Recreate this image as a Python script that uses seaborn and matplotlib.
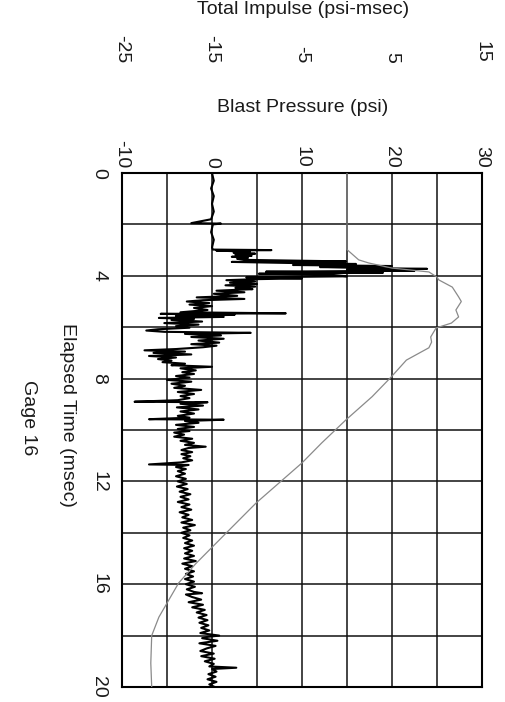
import numpy as np
import pandas as pd
import matplotlib
matplotlib.use("Agg")
import matplotlib.pyplot as plt
import seaborn as sns

# ---- data ----
time_ms = [0.0, 0.3, 0.6, 0.9, 1.2, 1.5, 1.8, 1.95, 1.97, 2.0, 2.3, 2.6, 2.9, 2.98,
           3.0, 3.02, 3.06, 3.1, 3.14, 3.18, 3.22, 3.26, 3.3, 3.34, 3.38, 3.44, 3.46,
           3.5, 3.54, 3.58, 3.62, 3.66, 3.7, 3.73, 3.76, 3.8, 3.84, 3.88, 3.92, 3.96,
           4.02, 4.06, 4.1, 4.13, 4.17, 4.22, 4.27, 4.32, 4.37, 4.42, 4.47, 4.52, 4.58,
           4.64, 4.7, 4.78, 4.84, 4.9, 4.95, 5.0, 5.06, 5.12, 5.18, 5.25, 5.33, 5.42,
           5.46, 5.48, 5.52, 5.56, 5.6, 5.64, 5.68, 5.72, 5.78, 5.84, 5.9, 5.96, 6.02,
           6.08, 6.13, 6.18, 6.22, 6.26, 6.32, 6.38, 6.45, 6.52, 6.6, 6.66, 6.72, 6.78,
           6.85, 6.9, 6.95, 7.0, 7.06, 7.12, 7.18, 7.24, 7.3, 7.36, 7.42, 7.48, 7.54,
           7.6, 7.68, 7.75, 7.82, 7.9, 7.96, 8.05, 8.12, 8.2, 8.28, 8.36, 8.44, 8.52,
           8.6, 8.68, 8.76, 8.84, 8.9, 8.92, 8.98, 9.05, 9.12, 9.2, 9.28, 9.36, 9.45,
           9.52, 9.58, 9.6, 9.65, 9.72, 9.8, 9.88, 9.96, 10.04, 10.1, 10.18, 10.26,
           10.34, 10.42, 10.5, 10.58, 10.65, 10.7, 10.78, 10.86, 10.94, 11.02, 11.1,
           11.18, 11.26, 11.34, 11.36, 11.44, 11.52, 11.6, 11.7, 11.8, 11.9, 12.0,
           12.1, 12.2, 12.3, 12.4, 12.5, 12.6, 12.7, 12.8, 12.9, 13.0, 13.1, 13.2,
           13.3, 13.4, 13.5, 13.6, 13.7, 13.8, 13.9, 14.0, 14.1, 14.2, 14.3, 14.4,
           14.5, 14.6, 14.7, 14.8, 14.9, 15.0, 15.1, 15.2, 15.3, 15.4, 15.5, 15.6,
           15.7, 15.8, 15.9, 16.0, 16.1, 16.2, 16.3, 16.35, 16.4, 16.5, 16.6, 16.7,
           16.8, 16.9, 17.0, 17.1, 17.2, 17.3, 17.4, 17.5, 17.6, 17.7, 17.8, 17.9,
           18.0, 18.05, 18.1, 18.2, 18.3, 18.4, 18.5, 18.6, 18.7, 18.8, 18.9, 19.0,
           19.1, 19.2, 19.25, 19.3, 19.4, 19.5, 19.6, 19.7, 19.8, 19.9, 20.0]
pressure_psi = [0.0, 0.2, -0.1, 0.2, 0.0, 0.2, -0.1, -2.3, 1.0, 0.1, -0.1, 0.2, 0.0, 0.1,
                6.6, 0.5, 4.2, 2.4, 4.8, 2.6, 4.4, 2.2, 4.0, 2.8, 3.6, 14.9, 2.2,
                8.5, 16.0, 9.0, 20.0, 12.0, 17.5, 23.9, 15.0, 22.5, 6.0, 19.0, 5.2, 13.0,
                15.0, 3.8, 10.0, 5.0, 1.6, 4.8, 2.0, 5.0, 1.5, 4.8, 2.6, 4.5, 0.5,
                3.6, 0.2, 2.8, -1.7, 3.6, -1.0, -2.8, -0.3, -2.5, 0.0, -2.0, -0.5, -3.5,
                8.2, -5.7, 2.5, -4.0, 1.3, -5.9, -2.0, -4.5, -1.1, -5.3, -1.5, -4.0, -2.5,
                -6.0, -7.3, -5.3, 4.3, -3.0, 1.0, -2.3, 1.3, -1.5, 0.8, -2.3, 0.5, -1.0,
                -4.0, -7.5, -3.0, -6.5, -2.3, -7.0, -4.0, -6.0, -4.5, -5.5, -3.0, -4.5, 0.0,
                -3.5, -1.8, -3.3, -2.0, -4.0, -2.5, -5.0, -2.3, -4.5, -3.0, -4.2, -1.2, -3.8,
                -2.0, -3.5, -2.5, -3.8, -8.6, -0.5, -3.5, -1.0, -3.9, -1.5, -3.5, -2.0, -3.8,
                -2.5, -7.0, 1.3, -3.0, -1.5, -4.0, -2.0, -3.8, -2.5, -4.2, -3.1, -4.2,
                -2.2, -3.5, -2.0, -3.0, -0.7, -2.6, -3.4, -2.2, -3.4, -2.4, -3.2,
                -2.2, -3.4, -7.0, -2.6, -4.0, -2.9, -3.8, -3.0, -4.0, -2.9, -3.8,
                -2.8, -3.9, -2.7, -3.6, -2.4, -3.5, -2.6, -3.8, -2.5, -3.4, -2.3, -3.6,
                -2.6, -3.3, -2.2, -3.4, -1.9, -3.2, -2.4, -3.4, -2.5, -3.2, -2.2, -3.0,
                -2.0, -3.1, -2.2, -3.0, -2.0, -3.1, -1.8, -3.3, -2.2, -3.0, -2.0, -2.9,
                -2.1, -3.0, -2.0, -2.9, -1.9, -2.8, -2.0, -1.1, -2.9, -2.2, -1.2, -2.6,
                -1.0, -2.2, -0.8, -1.7, -0.6, -1.5, -0.5, -1.4, -0.4, -1.2, -0.3, -1.3,
                0.8, -0.5, -1.1, 0.6, -1.4, 0.4, -0.6, -1.3, 0.2, -1.2, 0.3, -0.8,
                0.2, -0.3, 2.7, 0.0, 0.5, -0.4, 0.4, -0.5, 0.5, -0.3, 0.3]

impulse_time_ms = [0.0, 2.98, 3.38, 3.5, 3.7, 3.85, 4.05, 4.16, 4.44, 4.82, 5.0, 5.33,
                   5.6, 5.84, 6.03, 6.38, 6.58, 6.8, 7.28, 7.94, 8.7, 9.6, 10.5, 11.28,
                   12.84, 14.0, 15.2, 15.95, 17.28, 18.0, 19.07, 20.0]
impulse_psi_ms = [0.0, 0.0, 1.3, 2.4, 5.0, 9.1, 10.0, 10.2, 11.7, 12.4, 12.7, 12.1,
                  12.4, 11.6, 9.9, 9.3, 9.4, 9.1, 6.6, 4.9, 2.8, -0.1, -2.8, -5.0,
                  -10.1, -13.4, -16.8, -18.7, -20.9, -21.7, -21.8, -21.7]

pressure_ticks = [-10, 0, 10, 20, 30]
impulse_ticks = [-25, -15, -5, 5, 15]
time_ticks = [0, 4, 8, 12, 16, 20]

# ---- style ----
sns.set_style("white")
plt.rcParams["font.family"] = ["Liberation Sans", "DejaVu Sans"]
plt.rcParams["text.color"] = "#1a1a1a"
plt.rcParams["xtick.color"] = "#1a1a1a"
plt.rcParams["ytick.color"] = "#1a1a1a"
FS = 14

fig = plt.figure(figsize=(5.05, 7.02), dpi=100)
ax = fig.add_axes([122 / 505, 1 - 687 / 702, 360 / 505, 514 / 702])
ax2 = ax.twiny()

df_p = pd.DataFrame({"t": time_ms, "p": pressure_psi})
df_i = pd.DataFrame({"t": impulse_time_ms, "i": impulse_psi_ms})

sns.lineplot(data=df_p, x="p", y="t", sort=False, estimator=None,
             color="black", lw=1.5, ax=ax, zorder=3)
ax.set_xlim(-10, 30)
ax.set_ylim(20, 0)

# grid every 5 psi / 2 msec, labels every 10 psi / 4 msec
ax.set_xticks(np.arange(-10, 31, 5))
ax.set_xticklabels([str(v) if v in pressure_ticks else "" for v in range(-10, 31, 5)])
ax.set_yticks(np.arange(0, 21, 2))
ax.set_yticklabels([str(v) if v in time_ticks else "" for v in range(0, 21, 2)])
ax.grid(True, color="#111111", lw=1.1)
ax.set_axisbelow(True)
ax.xaxis.tick_top()
ax.tick_params(axis="x", top=True, bottom=False, length=0, pad=3.6,
               labelsize=FS, labelrotation=-90, labeltop=True, labelbottom=False)
ax.tick_params(axis="y", length=0, pad=10.5, labelsize=FS, labelrotation=-90)
for lab in ax.get_yticklabels():
    lab.set_va("center")
for s in ax.spines.values():
    s.set_color("black")
    s.set_linewidth(1.5)
ax.set_xlabel("")
ax.set_ylabel("")

# impulse on the twin x axis
sns.lineplot(data=df_i, x="i", y="t", sort=False, estimator=None,
             color="#8a8a8a", lw=0.9, ax=ax2, zorder=4)
ax2.set_xlim(-25, 15)
ax2.set_ylim(20, 0)
ax2.set_xticks(impulse_ticks)
ax2.set_xticklabels([str(v) for v in impulse_ticks])
ax2.spines["top"].set_position(("outward", 75.6))
for k in ["top", "left", "right", "bottom"]:
    ax2.spines[k].set_visible(False)
ax2.tick_params(axis="x", length=0, pad=3.6, labelsize=FS, labelrotation=-90)
ax2.set_xlabel("")
ax2.set_ylabel("")
ax2.grid(False)

fig.text(0.600, 1 - 10 / 702, "Total Impulse (psi-msec)", ha="center", va="center", fontsize=FS)
fig.text(0.600, 1 - 107 / 702, "Blast Pressure (psi)", ha="center", va="center", fontsize=FS)
fig.text(67 / 505, 1 - 415 / 702, "Elapsed Time (msec)", ha="center", va="center",
         rotation=-90, fontsize=FS)
fig.text(28 / 505, 1 - 418 / 702, "Gage 16", ha="center", va="center",
         rotation=-90, fontsize=FS)

fig.savefig("out.png", dpi=100, facecolor="white")
